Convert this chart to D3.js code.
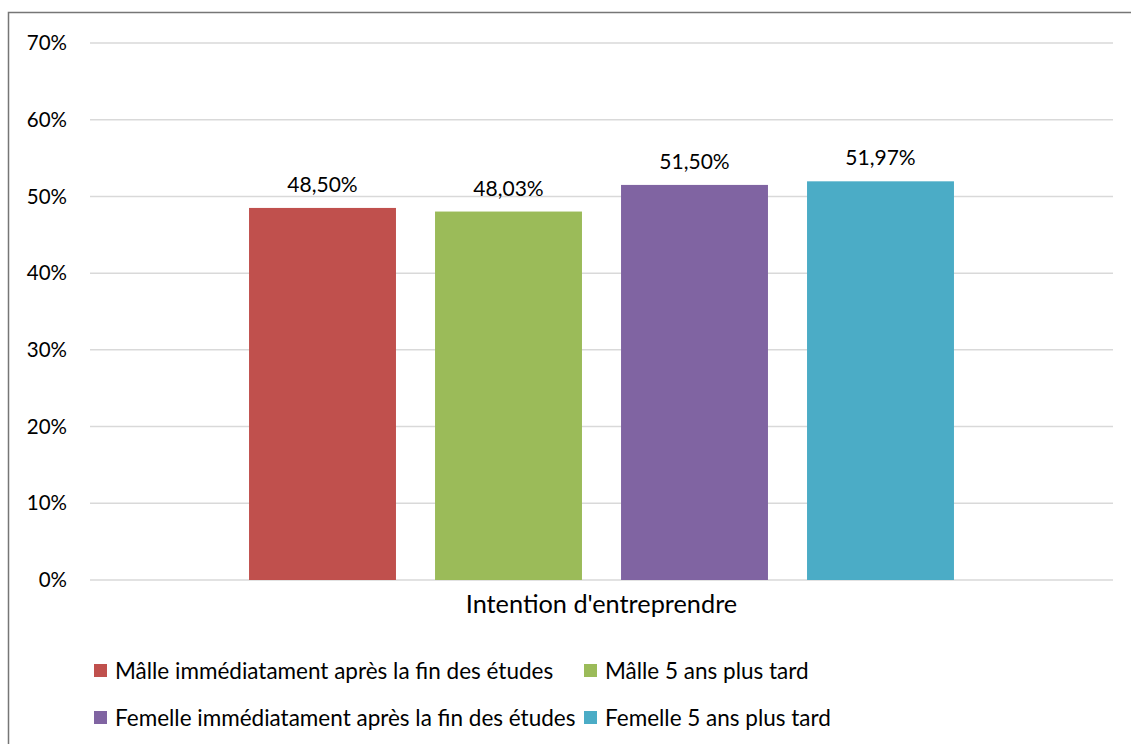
<!DOCTYPE html>
<html><head><meta charset="utf-8">
<script src="https://cdn.jsdelivr.net/npm/d3@7"></script>
<style>
body{margin:0;background:#fff;}
svg{font-family:Lato,"Open Sans",sans-serif;}
</style></head>
<body><svg id="c" width="1131" height="744"></svg>
<script>
const category = "Intention d'entreprendre";
const seriesNames = ["Mâlle immédiatament après la fin des études","Mâlle 5 ans plus tard","Femelle immédiatament après la fin des études","Femelle 5 ans plus tard"];
const seriesValues = [0.4850, 0.4803, 0.5150, 0.5197];
const valueLabels = ["48,50%","48,03%","51,50%","51,97%"];
const colors = ["#C0504D","#9BBB59","#8064A2","#4BACC6"];
const yTicks = [0,0.1,0.2,0.3,0.4,0.5,0.6,0.7];
const yTickLabels = ["0%","10%","20%","30%","40%","50%","60%","70%"];

const svg = d3.select("#c");
svg.append("rect").attr("x",8.5).attr("y",12.5).attr("width",1140).attr("height",760)
  .attr("fill","none").attr("stroke","#767676").attr("stroke-width",1.5);

const pL=90,pR=1113,pT=43,pB=580;
const y = d3.scaleLinear().domain([0,0.7]).range([pB,pT]);
const x0 = d3.scaleBand().domain([category]).range([pL,pR]).padding(0);
const x1 = d3.scaleBand().domain(seriesNames).range([0,x0.bandwidth()]).paddingInner(0.21).paddingOuter(0.855);

svg.append("g").selectAll("line").data(yTicks).join("line")
  .attr("x1",pL).attr("x2",pR).attr("y1",d=>y(d)).attr("y2",d=>y(d))
  .attr("stroke","#D9D9D9").attr("stroke-width",1.5);

svg.append("g").selectAll("text").data(yTicks).join("text")
  .attr("x",67).attr("y",d=>y(d)).attr("dy","0.35em").attr("text-anchor","end")
  .attr("font-size",20.5).attr("fill","#000").text((d,i)=>yTickLabels[i]);

const g = svg.append("g").attr("transform",`translate(${x0(category)},0)`);
g.selectAll("rect").data(seriesValues).join("rect")
  .attr("x",(d,i)=>x1(seriesNames[i])).attr("width",x1.bandwidth())
  .attr("y",d=>y(d)).attr("height",d=>pB-y(d)).attr("fill",(d,i)=>colors[i]);
g.selectAll("text").data(seriesValues).join("text")
  .attr("x",(d,i)=>x1(seriesNames[i])+x1.bandwidth()/2).attr("y",d=>y(d)-16)
  .attr("text-anchor","middle").attr("font-size",21).attr("fill","#000")
  .text((d,i)=>valueLabels[i]);

svg.append("text").attr("x",(pL+pR)/2).attr("y",613).attr("text-anchor","middle")
  .attr("font-size",25.3).attr("fill","#000").text(category);

const legPos = [[94,671],[584,671],[94,718],[584,718]];
const lg = svg.append("g");
seriesNames.forEach((n,i)=>{
  const [lx,ly]=legPos[i];
  lg.append("rect").attr("x",lx).attr("y",ly-7).attr("width",13).attr("height",13).attr("fill",colors[i]);
  lg.append("text").attr("x",lx+21).attr("y",ly).attr("dy","0.35em").attr("font-size",22.5).attr("fill","#000").text(n);
});
</script></body></html>
